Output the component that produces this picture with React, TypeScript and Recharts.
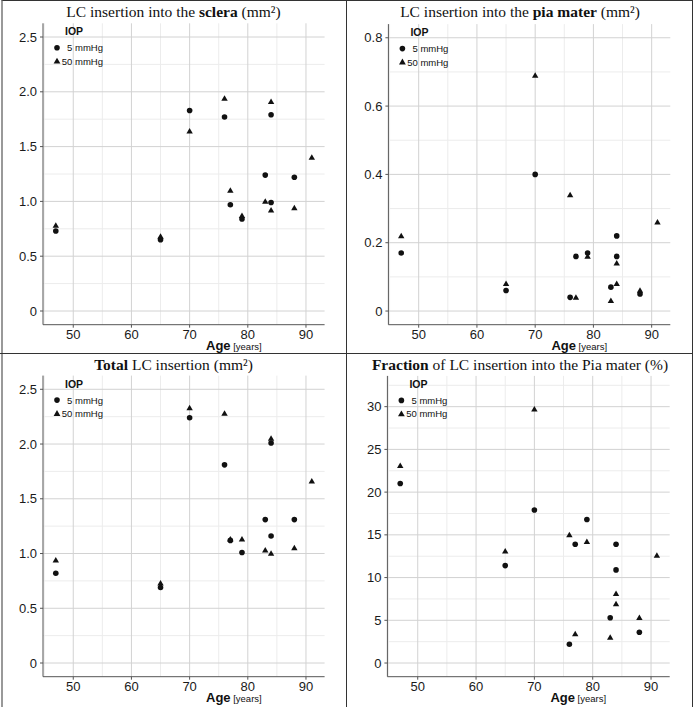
import React from 'react'
import { ScatterChart, Scatter, XAxis, YAxis, ReferenceLine } from 'recharts'

// ages of the eyes (5 mmHg has no value for the 91 y/o donor)
const AGES_5 = [47, 65, 70, 76, 77, 79, 83, 84, 84, 88]
const AGES_50 = [47, 65, 70, 76, 77, 79, 83, 84, 84, 88, 91]

const SCLERA_5 = [0.73, 0.65, 1.83, 1.77, 0.97, 0.84, 1.24, 1.79, 0.99, 1.22]
const SCLERA_50 = [0.78, 0.68, 1.64, 1.94, 1.10, 0.87, 1.00, 1.91, 0.92, 0.94, 1.40]
const PIA_5 = [0.17, 0.06, 0.40, 0.04, 0.16, 0.17, 0.07, 0.22, 0.16, 0.05]
const PIA_50 = [0.22, 0.08, 0.69, 0.34, 0.04, 0.16, 0.03, 0.14, 0.08, 0.06, 0.26]
const TOTAL_5 = [0.82, 0.69, 2.24, 1.81, 1.12, 1.01, 1.31, 2.01, 1.16, 1.31]
const TOTAL_50 = [0.94, 0.73, 2.33, 2.28, 1.13, 1.13, 1.03, 2.05, 1.00, 1.05, 1.66]
const FRAC_5 = [21.0, 11.4, 17.9, 2.2, 13.9, 16.8, 5.3, 13.9, 10.9, 3.6]
const FRAC_50 = [23.1, 13.1, 29.7, 15.0, 3.4, 14.2, 3.0, 8.1, 6.9, 5.3, 12.6]

const X_TICKS = [50, 60, 70, 80, 90]
const X_MINOR = [45, 55, 65, 75, 85]
const MM_TICKS = [0, 0.5, 1, 1.5, 2, 2.5]
const MM_MINOR = [0.25, 0.75, 1.25, 1.75, 2.25]
const PIA_TICKS = [0, 0.2, 0.4, 0.6, 0.8]
const PIA_MINOR = [0.1, 0.3, 0.5, 0.7]
const FRAC_TICKS = [0, 5, 10, 15, 20, 25, 30]
const FRAC_MINOR = [2.5, 7.5, 12.5, 17.5, 22.5, 27.5, 32.5]

const SANS = '"Liberation Sans", Arial, sans-serif'
const SERIF = '"Liberation Serif", "Times New Roman", serif'
const INK = '#111'

const toPoints = (ages: number[], vals: number[]) => vals.map((v, i) => ({ age: ages[i], v }))

const Dot = (p: any) => <circle cx={p.cx} cy={p.cy} r={2.8} fill={INK} />
const Tri = (p: any) => (
  <polygon
    points={`${p.cx},${p.cy - 3.2} ${p.cx + 3.2},${p.cy + 2.3} ${p.cx - 3.2},${p.cy + 2.3}`}
    fill={INK}
  />
)

interface PanelProps {
  x: number; y: number; w: number; h: number
  plot: { left: number; right: number; top: number; bottom: number }
  yDomain: [number, number]
  yTicks: number[]; yMinor: number[]; dec: number
  title: React.ReactNode
  v5: number[]; v50: number[]
}

function Panel({ x, y, w, h, plot, yDomain, yTicks, yMinor, dec, title, v5, v50 }: PanelProps) {
  const fmt = (v: number) => (v === 0 ? '0' : v.toFixed(dec))
  const tick = { fontSize: 13, fill: '#1a1a1a', fontFamily: SANS }
  const legendText: React.CSSProperties = {
    position: 'absolute', left: plot.left + 10, width: 50, textAlign: 'right',
    fontFamily: SANS, fontSize: 9.5, lineHeight: '12px', color: '#111', whiteSpace: 'nowrap'
  }
  return (
    <div style={{ position: 'absolute', left: x, top: y, width: w, height: h }}>
      <div style={{ position: 'absolute', left: 0, top: 3.5, width: w, textAlign: 'center', fontFamily: SERIF, fontSize: 15.5, lineHeight: '16px', color: '#111', whiteSpace: 'nowrap' }}>
        {title}
      </div>
      <ScatterChart
        width={w}
        height={h}
        margin={{ top: plot.top, right: w - plot.right, left: 0, bottom: 0 }}
      >
        <XAxis
          type="number" dataKey="age" domain={[44.8, 93.2]} ticks={X_TICKS}
          allowDataOverflow height={h - plot.bottom}
          tickSize={3} tickMargin={2} tick={tick}
          stroke="#555" tickLine={{ stroke: '#555' }}
        />
        <YAxis
          type="number" dataKey="v" domain={yDomain} ticks={yTicks}
          allowDataOverflow width={plot.left}
          tickSize={3} tickMargin={3} tick={tick} tickFormatter={fmt}
          stroke="#555" tickLine={{ stroke: '#555' }}
        />
        {X_MINOR.map(m => <ReferenceLine key={'xm' + m} x={m} stroke="#ececec" />)}
        {yMinor.map(m => <ReferenceLine key={'ym' + m} y={m} stroke="#ececec" />)}
        {X_TICKS.map(m => <ReferenceLine key={'x' + m} x={m} stroke="#d2d2d2" />)}
        {yTicks.map(m => <ReferenceLine key={'y' + m} y={m} stroke="#d2d2d2" />)}
        <Scatter name="5 mmHg" data={toPoints(AGES_5, v5)} shape={Dot} isAnimationActive={false} />
        <Scatter name="50 mmHg" data={toPoints(AGES_50, v50)} shape={Tri} isAnimationActive={false} />
      </ScatterChart>
      {/* legend */}
      <div style={{ position: 'absolute', left: plot.left + 22, top: plot.top + 2, fontFamily: SANS, fontSize: 10.5, fontWeight: 700, lineHeight: '12px', color: '#111' }}>IOP</div>
      <svg style={{ position: 'absolute', left: 0, top: 0, overflow: 'visible' }} width={1} height={1}>
        <circle cx={plot.left + 14} cy={plot.top + 24.5} r={2.8} fill={INK} />
        <polygon
          points={`${plot.left + 14},${plot.top + 34.5} ${plot.left + 17.4},${plot.top + 40.3} ${plot.left + 10.6},${plot.top + 40.3}`}
          fill={INK}
        />
      </svg>
      <div style={{ ...legendText, top: plot.top + 19 }}>5 mmHg</div>
      <div style={{ ...legendText, top: plot.top + 32.5 }}>50 mmHg</div>
      {/* axis title */}
      <div style={{ position: 'absolute', left: plot.left + 163, top: plot.bottom + 13.5, fontFamily: SANS, lineHeight: '13px', color: '#111', whiteSpace: 'nowrap' }}>
        <span style={{ fontSize: 13, fontWeight: 700 }}>Age</span>
        <span style={{ fontSize: 9.5 }}> [years]</span>
      </div>
    </div>
  )
}

export default function App() {
  return (
    <div style={{ position: 'absolute', left: 0, top: 0, width: 693, height: 707, background: '#fff', overflow: 'hidden' }}>
      <Panel
        x={0} y={0} w={347} h={353}
        plot={{ left: 43, right: 324.6, top: 23.3, bottom: 324.7 }}
        yDomain={[-0.125, 2.625]} yTicks={MM_TICKS} yMinor={MM_MINOR} dec={1}
        title={<>LC insertion into the <b>sclera</b> (mm²)</>}
        v5={SCLERA_5} v50={SCLERA_50}
      />
      <Panel
        x={347} y={0} w={346} h={353}
        plot={{ left: 41.4, right: 323.3, top: 24.1, bottom: 324.7 }}
        yDomain={[-0.04, 0.84]} yTicks={PIA_TICKS} yMinor={PIA_MINOR} dec={1}
        title={<>LC insertion into the <b>pia mater</b> (mm²)</>}
        v5={PIA_5} v50={PIA_50}
      />
      <Panel
        x={0} y={353} w={347} h={354}
        plot={{ left: 43, right: 324.6, top: 22.6, bottom: 323.7 }}
        yDomain={[-0.125, 2.625]} yTicks={MM_TICKS} yMinor={MM_MINOR} dec={1}
        title={<><b>Total</b> LC insertion (mm²)</>}
        v5={TOTAL_5} v50={TOTAL_50}
      />
      <Panel
        x={347} y={353} w={346} h={354}
        plot={{ left: 40.4, right: 322.7, top: 22.9, bottom: 323.7 }}
        yDomain={[-1.6, 33.6]} yTicks={FRAC_TICKS} yMinor={FRAC_MINOR} dec={0}
        title={<><b>Fraction</b> of LC insertion into the Pia mater (%)</>}
        v5={FRAC_5} v50={FRAC_50}
      />
      {/* frame and dividers */}
      <div style={{ position: 'absolute', left: 1, top: 0, width: 689, height: 706, borderLeft: '2px solid #999', borderTop: '1px solid #333', borderRight: '1px solid #333', borderBottom: '1px solid #333' }} />
      <div style={{ position: 'absolute', left: 346, top: 0, width: 1, height: 707, background: '#333' }} />
      <div style={{ position: 'absolute', left: 0, top: 353, width: 693, height: 1, background: '#333' }} />
    </div>
  )
}
